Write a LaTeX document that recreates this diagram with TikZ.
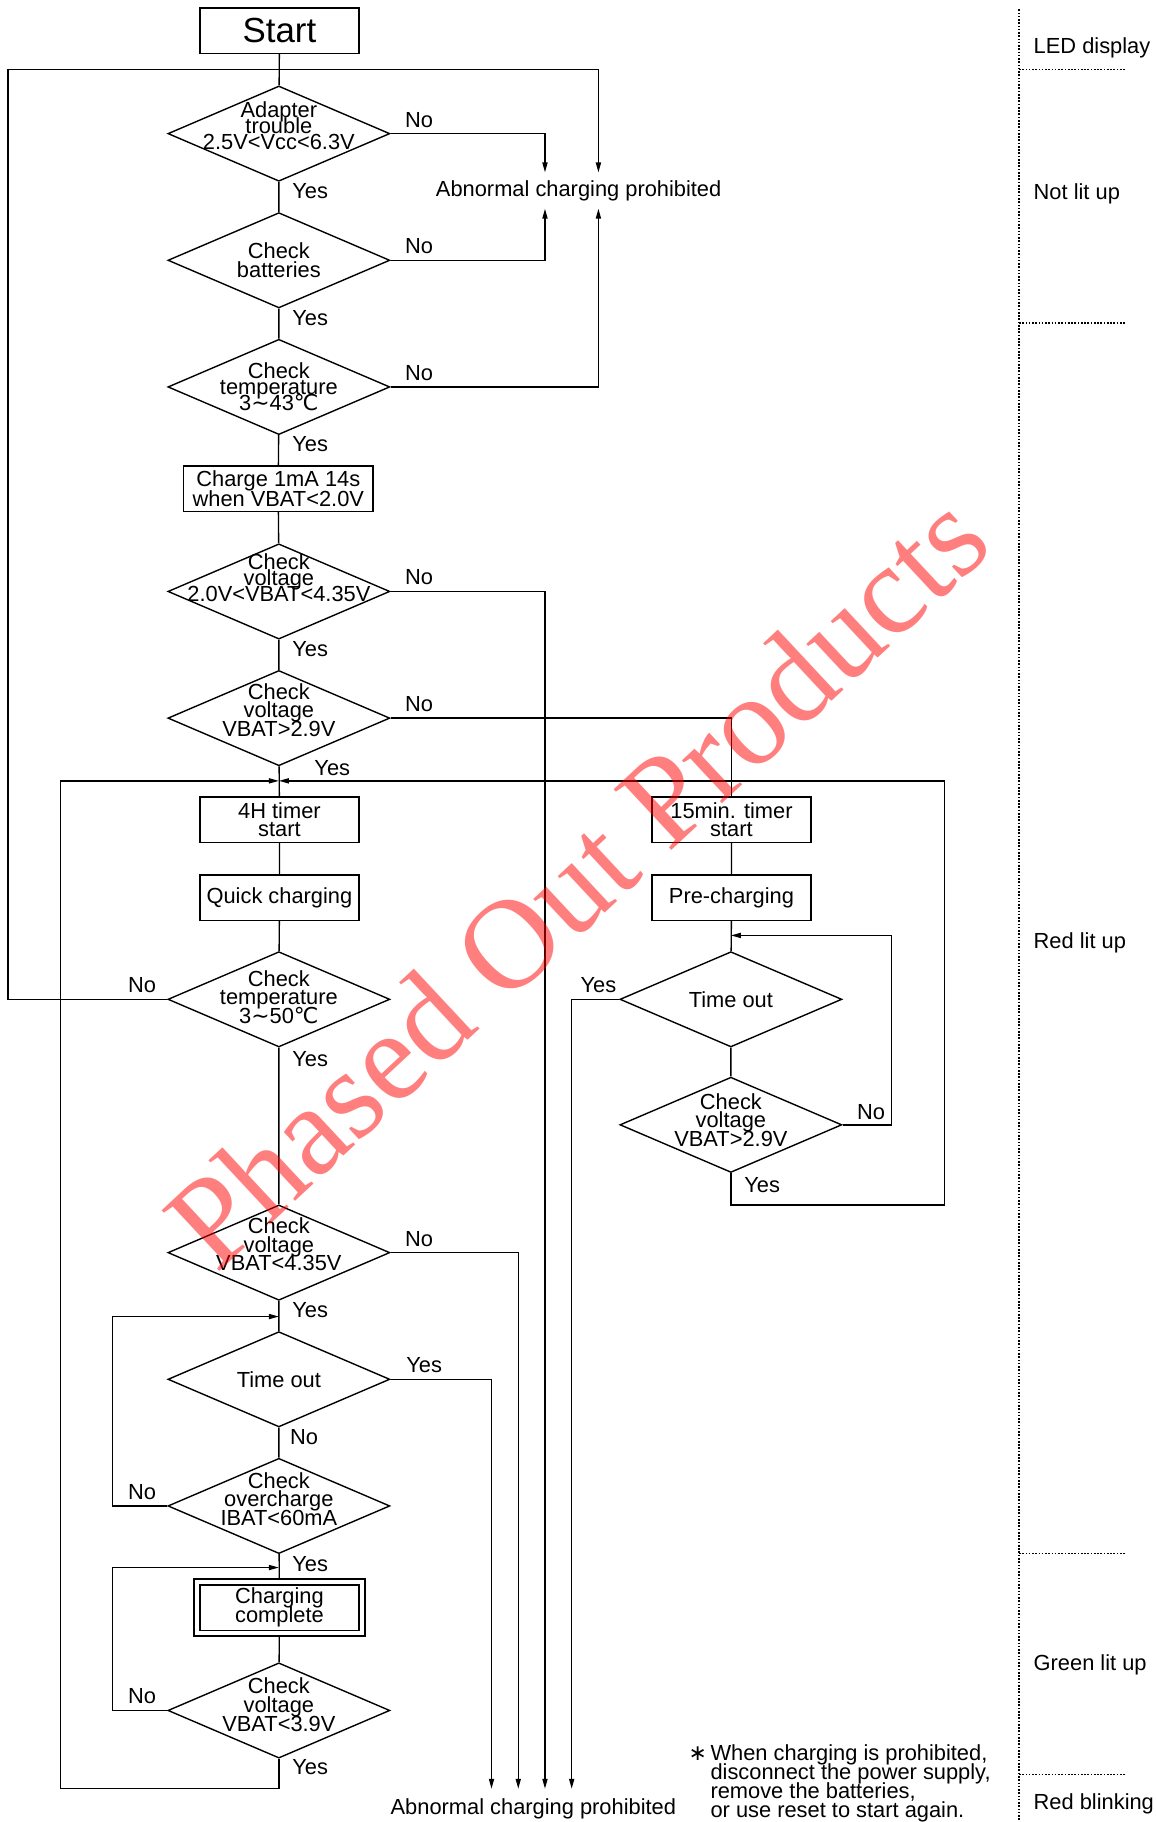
\documentclass[tikz,border=0pt]{standalone}
\usepackage{fontspec}
\setmainfont{Liberation Sans}
\newfontfamily\symfont{DejaVu Sans}
\newfontfamily\wmfont{Liberation Serif}
\usetikzlibrary{shapes.geometric,arrows.meta}
\lineskiplimit=-100pt

\newcommand{\degc}{{\symfont\char"2103}}
\newcommand{\wave}{{\symfont\char"223C}}
\newcommand{\astx}{{\symfont\char"2217}}

\begin{document}
\begin{tikzpicture}[x=0.5pt,y=-0.5pt,line width=0.6pt,
  every node/.style={inner sep=0pt,font=\fontsize{9.4}{8}\selectfont},
  box/.style={draw,minimum width=68.5pt,minimum height=19.5pt,align=center},
  dia/.style={draw,diamond,minimum width=95.5pt,minimum height=41pt},
  dtext/.style={align=center},
  tight/.style={font=\fontsize{9.4}{7}\selectfont},
  arr/.style={-{Triangle[length=4.3pt,width=2.2pt]}},
  led/.style={line width=0.5pt,dash pattern=on 0.7pt off 0.7pt}]
\useasboundingbox (0,0) rectangle (994,1568);

% bus columns and junctions
\coordinate (c7) at (7,0);
\coordinate (c52) at (52,0);
\coordinate (c423) at (423,0);
\coordinate (c446) at (446,0);
\coordinate (c469) at (469,0);
\coordinate (c492) at (492,0);
\coordinate (c515) at (515,0);
\coordinate (c813) at (813,0);
\coordinate (jtop) at (240,60);
\coordinate (m0) at (240,672);
\coordinate (m1) at (240,1133);
\coordinate (m2) at (240,1349);
\coordinate (r0) at (629,805);
\coordinate (rl) at (0,1037);

% main column
\node[box,font=\fontsize{15}{15}\selectfont] (start) at (240.5,26.5) {Start};
\node[dia,label={[dtext,tight,yshift=3.5pt]center:{Adapter\\trouble\\2.5V<Vcc<6.3V}}] (d1) at (240,115) {};
\node[dia,label={[dtext]center:{Check\\batteries}}] (d2) at (240,224) {};
\node[dia,label={[dtext,tight]center:{Check\\temperature\\3\wave43\degc}}] (d3) at (240,333) {};
\node[box,minimum width=81.5pt,font=\fontsize{9.4}{8.5}\selectfont] (charge) at (239.5,420.5) {Charge 1mA 14s\\when VBAT<2.0V};
\node[dia,label={[dtext,tight,yshift=6pt]center:{Check\\voltage\\2.0V<VBAT<4.35V}}] (d4) at (240,509) {};
\node[dia,label={[dtext,yshift=3.5pt]center:{Check\\voltage\\VBAT>2.9V}}] (d5) at (240,618) {};
\node[box] (t4h) at (240.5,705.5) {4H timer\\start};
\node[box] (quick) at (240.5,772.5) {Quick charging};
\node[dia,label={[dtext,yshift=1pt]center:{Check\\temperature\\3\wave50\degc}}] (d6) at (240,860) {};
\node[dia,label={[dtext,yshift=3.5pt]center:{Check\\voltage\\VBAT<4.35V}}] (d7) at (240,1078) {};
\node[dia,label={[dtext]center:{Time out}}] (d8) at (240,1187) {};
\node[dia,label={[dtext,yshift=3pt]center:{Check\\overcharge\\IBAT<60mA}}] (d9) at (240,1296) {};
\node[box,double,double distance=1.9pt,outer sep=1.55pt,minimum width=71pt,minimum height=22pt] (done) at (240.5,1383.5) {Charging\\complete};
\node[dia,label={[dtext,yshift=2.5pt]center:{Check\\voltage\\VBAT<3.9V}}] (d10) at (240,1472) {};

% right column
\node[box] (t15) at (629.5,705.5) {15min. timer\\start};
\node[box] (pre) at (629.5,772.5) {Pre-charging};
\node[dia,label={[dtext]center:{Time out}}] (d11) at (629,860) {};
\node[dia,label={[dtext,yshift=2pt]center:{Check\\voltage\\VBAT>2.9V}}] (d12) at (629,968) {};

% end states
\node[minimum height=15pt] (abn1) at (498,164) {Abnormal charging prohibited};
\node[minimum height=17pt] (abn2) at (459,1557) {Abnormal charging prohibited};
\node[anchor=north west,align=left,font=\fontsize{9.4}{8.2}\selectfont] (note) at (592,1501) {\astx\,When charging is prohibited,\\\hphantom{\astx\,}disconnect the power supply,\\\hphantom{\astx\,}remove the batteries,\\\hphantom{\astx\,}or use reset to start again.};

% Yes / No
\node[anchor=west] (no1) at ([shift={(12,-12)}]d1.east) {No};
\node[anchor=west] (yes1) at ([shift={(11,8)}]d1.south) {Yes};
\node[anchor=west] (no2) at ([shift={(12,-12)}]d2.east) {No};
\node[anchor=west] (yes2) at ([shift={(11,8)}]d2.south) {Yes};
\node[anchor=west] (no3) at ([shift={(12,-12)}]d3.east) {No};
\node[anchor=west] (yes3) at ([shift={(11,8)}]d3.south) {Yes};
\node[anchor=west] (no4) at ([shift={(12,-12)}]d4.east) {No};
\node[anchor=west] (yes4) at ([shift={(11,8)}]d4.south) {Yes};
\node[anchor=west] (no5) at ([shift={(12,-12)}]d5.east) {No};
\node[anchor=west] (yes5) at ([shift={(30,1)}]d5.south) {Yes};
\node[anchor=east] (no6) at ([shift={(-9,-12)}]d6.west) {No};
\node[anchor=west] (yes6) at ([shift={(11,10)}]d6.south) {Yes};
\node[anchor=west] (no7) at ([shift={(12,-12)}]d7.east) {No};
\node[anchor=west] (yes7) at ([shift={(11,8)}]d7.south) {Yes};
\node[anchor=west] (yes8) at ([shift={(13,-12)}]d8.east) {Yes};
\node[anchor=west] (no8) at ([shift={(9,8)}]d8.south) {No};
\node[anchor=east] (no9) at ([shift={(-9,-12)}]d9.west) {No};
\node[anchor=west] (yes9) at ([shift={(11,8)}]d9.south) {Yes};
\node[anchor=east] (no10) at ([shift={(-9,-12)}]d10.west) {No};
\node[anchor=west] (yes10) at ([shift={(11,7)}]d10.south) {Yes};
\node[anchor=east] (yes11) at ([shift={(-2,-12)}]d11.west) {Yes};
\node[anchor=west] (no12) at ([shift={(12,-11)}]d12.east) {No};
\node[anchor=west] (yes12) at ([shift={(11,10)}]d12.south) {Yes};

% flow
\draw (start) -- (d1) -- (d2) -- (d3) -- (charge) -- (d4) -- (d5) -- (t4h) -- (quick) -- (d6) -- (d7) -- (d8) -- (d9) -- (done) -- (d10);
\draw (t15) -- (pre) -- (d11) -- (d12);
\draw[arr] (d1.east) -| (c469 |- abn1.north);
\draw[arr] (d2.east) -| (c469 |- abn1.south);
\draw[arr] (d3.east) -| (c515 |- abn1.south);
\draw[arr] (d6.west) -| (c7 |- jtop) -| (c515 |- abn1.north);
\draw[arr] (d4.east) -| (c469 |- abn2.north);
\draw[arr] (d7.east) -| (c446 |- abn2.north);
\draw[arr] (d8.east) -| (c423 |- abn2.north);
\draw[arr] (d11.west) -| (c492 |- abn2.north);
\draw (d5.east) -| (t15.north);
\draw[arr] (d10.south) |- (c52 |- abn2.north) |- (m0);
\draw[arr] (d12.south) |- (c813 |- rl) |- (m0);
\draw[arr] (d9.west) -- ++(-47,0) |- (m1);
\draw[arr] (d10.west) -- ++(-47,0) |- (m2);
\draw[arr] (d12.east) -- ++(42,0) |- (r0);

% LED column
\draw[led] (877,8) -- (877,1568);
\foreach \yy in {60,278,1337,1527}
  \draw[led] (877,\yy) -- (968,\yy);
\node[anchor=west] (led0) at (889,41) {LED display};
\node[anchor=west] (led1) at (889,167) {Not lit up};
\node[anchor=west] (led2) at (889,811) {Red lit up};
\node[anchor=west] (led3) at (889,1433) {Green lit up};
\node[anchor=west] (led4) at (889,1552) {Red blinking};

% watermark
\node[rotate=43,text=red,text opacity=0.5,font=\wmfont\fontsize{55}{55}\selectfont] (wm) at (496,757) {Phased Out Products};
\end{tikzpicture}
\end{document}
